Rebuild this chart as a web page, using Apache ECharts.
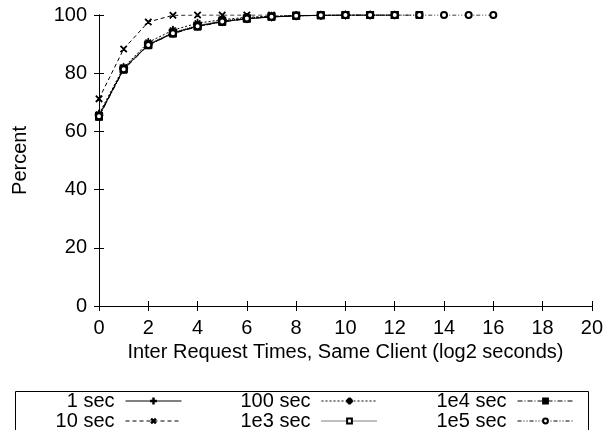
<!DOCTYPE html>
<html style="height: 100%">
<head>
	<meta charset="utf-8">
	<script type="text/javascript" src="https://cdn.jsdelivr.net/npm/echarts@6/dist/echarts.min.js"></script>
	<style>
		#container{
			width: 606px;
			height: 430px;
		}
	</style>
</head>
<body style="height: 100%; margin: 0; background: #fff">
	<div id="container"></div>
	<script type="text/javascript">
		// log2 seconds buckets
		var xs = [0, 1, 2, 3, 4, 5, 6, 7, 8, 9, 10, 11, 12, 13, 14, 15, 16];
		var yTicks = [0, 20, 40, 60, 80, 100];
		var names = ['1 sec', '10 sec', '100 sec', '1e3 sec', '1e4 sec', '1e5 sec'];

		var s1 = [65.5, 81.5, 89.8, 93.8, 96.2, 97.7, 98.7, 99.3, 99.7, 99.9, 100, 100, 100];
		var s10 = [71.2, 88.3, 97.6, 99.9, 100, 100, 100, 100];
		var s100 = [66.0, 82.0, 90.6, 94.8, 97.2, 98.4, 99.2, 99.6, 99.8, 99.9, 100, 100];
		var s1e3 = [65.3, 81.6, 89.9, 94.0, 96.4, 98.0, 98.9, 99.5, 99.8, 99.9, 100, 100, 100];
		var s1e4 = [65.0, 81.2, 89.6, 93.6, 96.0, 97.6, 98.7, 99.4, 99.7, 99.9, 100, 100, 100, 100];
		var s1e5 = [65.2, 81.4, 89.7, 93.7, 96.1, 97.8, 98.8, 99.4, 99.7, 99.9, 100, 100, 100, 100, 100, 100, 100];

		var FONT = 'Liberation Sans';
		var FS = 20;
		var plus = 'path://M0,4.5h10v1h-10z M4.5,0h1v10h-1z';
		var star = 'path://M0,4.5h10v1h-10z M4.5,0h1v10h-1z M1.5,2.2L2.2,1.5L8.5,7.8L7.8,8.5z M7.8,1.5L8.5,2.2L2.2,8.5L1.5,7.8z';

		function pairs(arr) {
			return arr.map(function (v, i) { return [xs[i], v]; });
		}

		function mk(name, arr, symbol, size, dash, rotate) {
			return {
				name: name,
				type: 'line',
				data: pairs(arr),
				symbol: symbol,
				symbolSize: size,
				symbolRotate: rotate || 0,
				showSymbol: true,
				animation: false,
				itemStyle: { color: '#000', borderColor: '#000', borderWidth: 1 },
				lineStyle: { color: '#000', width: 1, type: dash }
			};
		}

		// one legend per entry, right edge = end of the sample line
		var legRight = [424, 424, 228, 228, 32, 32];
		var legTop = [391, 411, 391, 411, 391, 411];
		var legends = names.map(function (n, i) {
			return {
				data: [n],
				right: legRight[i], top: legTop[i],
				orient: 'horizontal', align: 'right',
				itemWidth: 56, itemHeight: 6, padding: 0,
				selectedMode: false,
				lineStyle: { width: 1 },
				textStyle: { fontFamily: FONT, fontSize: FS, color: '#000', padding: [0, 6, 0, 0] }
			};
		});

		var myChart = echarts.init(document.getElementById('container'));

		myChart.setOption({
			backgroundColor: '#fff',
			textStyle: { fontFamily: FONT },
			grid: { left: 99, right: 14, top: 15, bottom: 124 },
			xAxis: [{
				type: 'value', min: 0, max: 20, interval: 2,
				name: 'Inter Request Times, Same Client (log2 seconds)',
				nameLocation: 'middle', nameGap: 33,
				nameTextStyle: { fontSize: FS, color: '#000', fontFamily: FONT },
				axisLine: { lineStyle: { color: '#000', width: 1 } },
				axisTick: { inside: true, length: 5, lineStyle: { color: '#000' } },
				axisLabel: { fontSize: FS, color: '#000', margin: 12, fontFamily: FONT },
				splitLine: { show: false }
			}, {
				type: 'value', min: 0, max: 20, interval: 2, position: 'top',
				axisLine: { lineStyle: { color: '#000', width: 1 } },
				axisTick: { inside: true, length: 5, lineStyle: { color: '#000' } },
				axisLabel: { show: false },
				splitLine: { show: false }
			}],
			yAxis: [{
				type: 'value', min: yTicks[0], max: yTicks[yTicks.length - 1], interval: 20,
				name: 'Percent',
				nameLocation: 'middle', nameGap: 69,
				nameTextStyle: { fontSize: FS, color: '#000', fontFamily: FONT },
				axisLine: { show: true, lineStyle: { color: '#000', width: 1 } },
				axisTick: { show: true, inside: true, length: 5, lineStyle: { color: '#000' } },
				axisLabel: { fontSize: FS, color: '#000', margin: 12, fontFamily: FONT },
				splitLine: { show: false }
			}, {
				type: 'value', min: 0, max: 100, interval: 20, position: 'right',
				axisLine: { show: true, lineStyle: { color: '#000', width: 1 } },
				axisTick: { show: true, inside: true, length: 5, lineStyle: { color: '#000' } },
				axisLabel: { show: false },
				splitLine: { show: false }
			}],
			legend: legends,
			graphic: [{
				type: 'rect',
				left: 13, top: 389,
				shape: { width: 573, height: 60 },
				style: { fill: 'none', stroke: '#000', lineWidth: 1 },
				silent: true
			}],
			series: [
				mk(names[0], s1, plus, 8, 'solid'),
				mk(names[1], s10, plus, 8, [4, 3], 45),
				mk(names[2], s100, star, 8, [2, 2]),
				mk(names[3], s1e3, 'emptyRect', 6, [1, 1]),
				mk(names[4], s1e4, 'rect', 7, [5, 2, 1, 2]),
				mk(names[5], s1e5, 'emptyCircle', 6, [4, 2, 1, 2, 1, 2])
			]
		});
	</script>
</body>
</html>
